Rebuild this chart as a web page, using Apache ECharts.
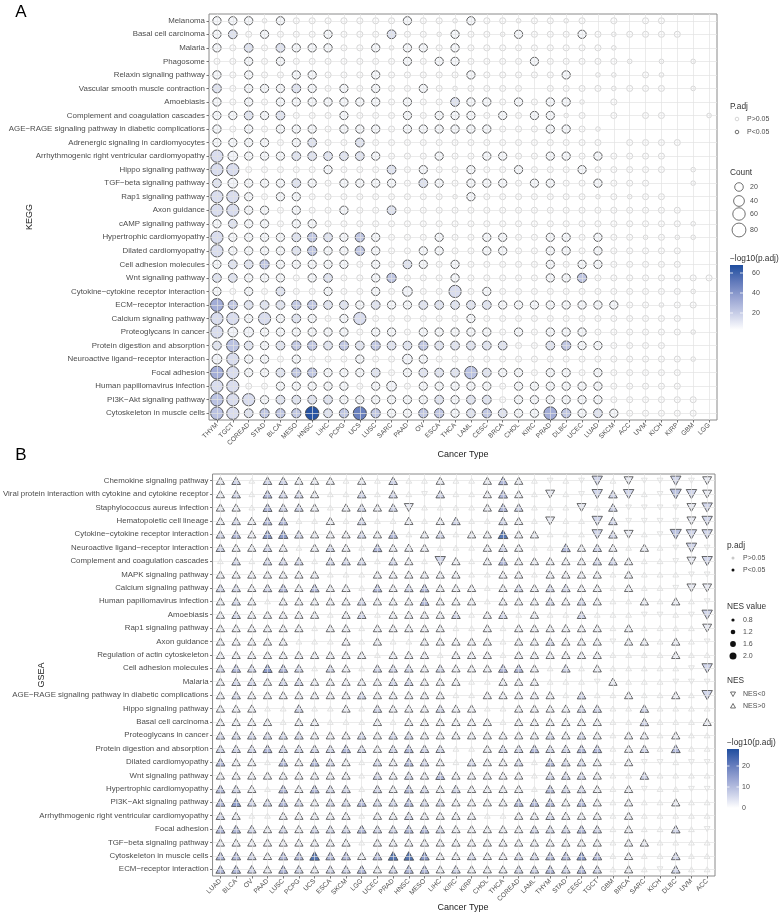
<!DOCTYPE html>
<html><head><meta charset="utf-8">
<script src="https://cdn.jsdelivr.net/npm/echarts@6/dist/echarts.min.js"></script>
<style>html,body{margin:0;padding:0;background:#fff}#c{width:780px;height:914px}</style>
</head><body><div id="c"></div>
<script>
const FONT = '"Liberation Sans", Arial, Helvetica, sans-serif';

// ---------- Panel A (KEGG) ----------
const keggCancers = ['THYM','TGCT','COREAD','STAD','BLCA','MESO','HNSC','LIHC','PCPG','UCS','LUSC','SARC','PAAD','OV','ESCA','THCA','LAML','CESC','BRCA','CHOL','KIRC','PRAD','DLBC','UCEC','LUAD','SKCM','ACC','UVM','KICH','KIRP','GBM','LGG'];
const keggPathways = ['Melanoma','Basal cell carcinoma','Malaria','Phagosome','Relaxin signaling pathway','Vascular smooth muscle contraction','Amoebiasis','Complement and coagulation cascades','AGE\u2212RAGE signaling pathway in diabetic complications','Adrenergic signaling in cardiomyocytes','Arrhythmogenic right ventricular cardiomyopathy','Hippo signaling pathway','TGF\u2212beta signaling pathway','Rap1 signaling pathway','Axon guidance','cAMP signaling pathway','Hypertrophic cardiomyopathy','Dilated cardiomyopathy','Cell adhesion molecules','Wnt signaling pathway','Cytokine\u2212cytokine receptor interaction','ECM\u2212receptor interaction','Calcium signaling pathway','Proteoglycans in cancer','Protein digestion and absorption','Neuroactive ligand\u2212receptor interaction','Focal adhesion','Human papillomavirus infection','PI3K\u2212Akt signaling pathway','Cytoskeleton in muscle cells'];
// one character per cancer type; meaning in keggCodes
const keggCells = [
 'ooo.o,,,,,,,o,,.o,,.,,.,-,-,,---',
 'oe,o,,,o,,,e,,.o,,.o,,,o,.,,,,--',
 'o,e,eooo,,o.oo,o,,,,,,,,,.------',
 ',,o,o,,,,,,,o,oo,,,,o,,,,,.-.-.-',
 'o,o,,oo,,,o,,,,,o,,,,,o-..-,.---',
 'e,oooeo,o,o,,o,.,,,,-,,,,.,,,-.-',
 'o,o,ooooooo,o,,eoo,o,oo.-,------',
 'ooeoe,,,o,,,o,ooo,o,oo.,-,-,,--.',
 'o,o,ooo,ooo,oooooo,,,oo,.-------',
 'oooo,oe,,e,,,,,,,,,,,,,,,-,,,,--',
 'EOoooeeeeeo,,,o,,oo,,oo,o,,,,---',
 'EE,,,,,o,,,e,o,,o,,o,,,o,,,,,-.-',
 'eOoooeo,oooo,eo,ooo,oo,,o,,,--.-',
 'EEo,oo,,,,,,,,,.o,,,,,,,.,.,,---',
 'EEoo,o,,o,,e,,,,,,,,,,,,,,,,,,--',
 'oeoo,oo,,,,,,,,,,,,,,,,,,,,,,,.-',
 'Eooooegeogo,,,o,,oo,,oo,o,,.,..-',
 'Eooooegoogo,,oo,,oo,,oo,o,,,,,--',
 'oeegooooo,o,eo,o,,,,,o,oo,,,,,--',
 'eeooo,oe,,og,,,o,,,,,oog,,,,,,,,',
 'o,o,e,,o,,o,O,,E,o,,,,,,,,,,,,.-',
 'bgeeeggeeoeooeeeeeoooooooo,,.,,-',
 'EEoEoeo,oE,,,,,,o,,,,,,,,,,,,,--',
 'EOOoooooo,oo,ooooo,o,ooo,,,,,,.-',
 'eGeoeggegegeegeeeee,,egoo,,,,---',
 'OEoo,o,,,o,,Oo,,,,,,,,,,,,,,,,.-',
 'bEooeggoooe,oeeeGeoo,oo,o,,,,,--',
 'EE,,ooooo,oO,ooooo,oooooo,,,,,--',
 'GEEoeeeeooooooeoee,oooooo,,,,,,-',
 'GEegggHegUgooggoegeoobgoeo,,,,,-'
];
// code -> [Count, -log10(p.adj), significant]
const keggCodes = {'.':[2,0.3,0], ',':[6,0.6,0], 'o':[18,3,1], 'O':[30,4,1], 'e':[22,10,1], 'E':[58,12,1],
  'g':[26,20,1], 'G':[62,22,1], 'b':[66,30,1], 'U':[70,48,1], 'H':[75,66,1]};
const keggCountTicks = [20,40,60,80];
const keggColorTicks = [60,40,20];

// ---------- Panel B (GSEA) ----------
const gseaCancers = ['LUAD','BLCA','OV','PAAD','LUSC','PCPG','UCS','ESCA','SKCM','LGG','UCEC','PRAD','HNSC','MESO','LIHC','KIRC','KIRP','CHOL','THCA','COREAD','LAML','THYM','STAD','CESC','TGCT','GBM','BRCA','SARC','KICH','DLBC','UVM','ACC'];
const gseaPathways = ['Chemokine signaling pathway','Viral protein interaction with cytokine and cytokine receptor','Staphylococcus aureus infection','Hematopoietic cell lineage','Cytokine\u2212cytokine receptor interaction','Neuroactive ligand\u2212receptor interaction','Complement and coagulation cascades','MAPK signaling pathway','Calcium signaling pathway','Human papillomavirus infection','Amoebiasis','Rap1 signaling pathway','Axon guidance','Regulation of actin cytoskeleton','Cell adhesion molecules','Malaria','AGE\u2212RAGE signaling pathway in diabetic complications','Hippo signaling pathway','Basal cell carcinoma','Proteoglycans in cancer','Protein digestion and absorption','Dilated cardiomyopathy','Wnt signaling pathway','Hypertrophic cardiomyopathy','PI3K\u2212Akt signaling pathway','Arrhythmogenic right ventricular cardiomyopathy','Focal adhesion','TGF\u2212beta signaling pathway','Cytoskeleton in muscle cells','ECM\u2212receptor interaction'];
const gseaCells = [
 'aAuAAaaauauAuuauuaBaududVuvddVdv',
 'aAuBAAauuAuAudAuuaBauvudVAVudWVv',
 'aauBAAauaAaAvuuuuaBAuuuvuAddddvV',
 'aAaBBuuauAuuauaAuuAauvuuVAddddvV',
 'ABaCCAaaaAaBuaAuaaDaauuuVAvudWVV',
 'AaaAauaAauBaaauuuaAauuBaAauaudVd',
 'uAuAAAuAAAuAauVauaBaaaaaAAauudvV',
 'aaaaaaauuuaaaaaauuaauaaaauauuudd',
 'AAaABaBaauBaABaaauaAaAAaauauudvv',
 'aAauaaaaaAaaaBaaauaaaAaAauuauaud',
 'aAaaaaauaAuaaaaAuaAuauuAuuuddudV',
 'aaaaaauaauaaaaauuauaaaaaauauuuuv',
 'aaaaauuuauauuaaaaauaaAaaadaauaud',
 'aaaaaaaaaauaaauaaauaaaaaauuuuauu',
 'ABACBAuAauAAAaAaaaBBauAuauuuuudV',
 'aAAaAAaaaaaAAaaauuaaauuudauuuddd',
 'aAaaaaaaaAaaaaauuaaaaauAuuauuauV',
 'aaauuAuuauAaaaAaauuaaaaAAuuAuuuu',
 'aaaauaauuuauaaaaaauaaaaaauuAuuua',
 'AAAAAAaaaAaAAaaaaaaaaAaAauaauauu',
 'AAABAAAABAaABAAuuaAABAABBuaAuBuu',
 'BaauBaBAauAaBAauAaaAuBAAauaddudd',
 'aaaaaaaaauAaAaBaaaaauAAAauuAuuuu',
 'BAauBaBAAuAaBAaAaaaauBAAauaduudd',
 'BCAABAaAABAABAAaaaaBBBaBauauuauu',
 'AauuaaaaauaaAaaaauuaaAaaauauuuuu',
 'BBAaAaAAABAABBAaaaaaAAABAuauuAud',
 'aaaaaaaaauaaaaaaaaaaaaaaauaauuuu',
 'BBAaBBDBBaBDDCaaAaaAABBCBuauuAuu',
 'BBAaBAaAABaABBaAaaaAABABAuaudAuu'
];
// code -> [NES, -log10(p.adj), significant]
const gseaCodes = {'u':[0.9,0.5,0], 'd':[-0.9,0.5,0], 'a':[1.6,2.5,1], 'A':[1.7,7,1], 'B':[1.8,12,1],
  'C':[1.9,18,1], 'D':[2.0,26,1], 'v':[-1.8,3,1], 'V':[-2.2,7,1], 'W':[-2.4,11,1]};
const gseaNesTicks = [0.8,1.2,1.6,2.0];
const gseaColorTicks = [20,10,0];

const RAMP = ['#FFFFFF','#C9CFE8','#97A3D2','#5F78BA','#1F4E9F'];

function buildKegg(sig){
  const out=[];
  keggPathways.forEach((p,i)=>{
    const row=keggCells[i];
    for(let j=0;j<keggCancers.length;j++){
      const lv=keggCodes[row[j]]; if(!lv||lv[2]!==sig) continue;
      out.push([j,i,lv[0],lv[1]]);
    }
  });
  return out;
}
function buildGsea(sig,up){
  const out=[];
  gseaPathways.forEach((p,i)=>{
    const row=gseaCells[i];
    for(let j=0;j<gseaCancers.length;j++){
      const lv=gseaCodes[row[j]]; if(!lv||lv[2]!==sig) continue;
      if((lv[0]>0)!==up) continue;
      out.push([j,i,lv[0],lv[1]]);
    }
  });
  return out;
}
const circleSize = v => 3.5 + 11*Math.sqrt((v[2]-1)/89);
const triSize = v => { const w = 2.5 + 3.6*Math.abs(v[2]); return [w, w*0.88]; };

function gridLines(nx, ny){
  const d=[];
  for(let i=0;i<nx;i++) d.push({xAxis:i});
  for(let i=0;i<ny;i++) d.push({yAxis:i});
  return {silent:true, symbol:['none','none'], label:{show:false}, animation:false,
    lineStyle:{color:'#E3E3E3', width:0.7, type:'solid'}, emphasis:{disabled:true}, data:d};
}

const yLab = {fontSize:7.9, color:'#4D4D4D', fontFamily:FONT, margin:4, interval:0};
const xLab = {fontSize:6.7, color:'#4D4D4D', fontFamily:FONT, margin:4, interval:0, rotate:45};
const tick = {show:true, alignWithLabel:true, length:2.5, interval:0, lineStyle:{color:'#555', width:0.8}};

function mkX(gi, data){ return {type:'category', gridIndex:gi, data:data, boundaryGap:true,
  axisLine:{show:false}, axisTick:tick, axisLabel:xLab, splitLine:{show:false}}; }
function mkY(gi, data){ return {type:'category', gridIndex:gi, data:data, inverse:true, boundaryGap:true,
  axisLine:{show:false}, axisTick:tick, axisLabel:yLab, splitLine:{show:false}}; }

const txt = (x,y,t,size,opt={}) => Object.assign({type:'text', x:x, y:y, silent:true,
  style:{text:t, x:0, y:0, fontSize:size, fontFamily:FONT, fill:opt.fill||'#333',
    align:opt.align||'left', verticalAlign:'middle', fontWeight:opt.weight||'normal'}}, opt.rot?{rotation:opt.rot}:{});

const graphics = [];
// panel letters & axis titles
graphics.push(txt(21,12,'A',17,{align:'center',fill:'#000'}));
graphics.push(txt(21,455,'B',17,{align:'center',fill:'#000'}));
graphics.push(txt(463,455,'Cancer Type',9,{align:'center',fill:'#222'}));
graphics.push(txt(463,908,'Cancer Type',9,{align:'center',fill:'#222'}));
graphics.push(txt(30,217,'KEGG',9,{align:'center',fill:'#222',rot:Math.PI/2}));
graphics.push(txt(42,675,'GSEA',9,{align:'center',fill:'#222',rot:Math.PI/2}));

// Legend A
graphics.push(txt(730,107,'P.adj',8.3));
graphics.push({type:'circle', shape:{cx:737,cy:119,r:1.8}, style:{fill:'#fff',stroke:'#C4C4C4',lineWidth:0.7}});
graphics.push(txt(747,119,'P>0.05',7,{fill:'#4D4D4D'}));
graphics.push({type:'circle', shape:{cx:737,cy:132,r:1.8}, style:{fill:'#fff',stroke:'#333',lineWidth:0.7}});
graphics.push(txt(747,132,'P<0.05',7,{fill:'#4D4D4D'}));
graphics.push(txt(730,173,'Count',8.3));
const countY=[187,201,214,230];
keggCountTicks.forEach((c,i)=>{
  const r = circleSize([0,0,c])/2;
  graphics.push({type:'circle', shape:{cx:739,cy:countY[i],r:r}, style:{fill:'#fff',stroke:'#333',lineWidth:0.7}});
  graphics.push(txt(750,countY[i],String(c),7,{fill:'#4D4D4D'}));
});
graphics.push(txt(730,259,'\u2212log10(p.adj)',8.3));
const gradA = {type:'linear', x:0,y:1,x2:0,y2:0, colorStops:RAMP.map((c,i)=>({offset:i/(RAMP.length-1), color:c}))};
graphics.push({type:'rect', shape:{x:730,y:265,width:13,height:65}, style:{fill:gradA}});
keggColorTicks.forEach(v=>{
  const y = 265 + (68-v)*1.0;
  graphics.push({type:'line', shape:{x1:730,y1:y,x2:733,y2:y}, style:{stroke:'#fff',lineWidth:0.8}});
  graphics.push({type:'line', shape:{x1:740,y1:y,x2:743,y2:y}, style:{stroke:'#fff',lineWidth:0.8}});
  graphics.push(txt(752,y,String(v),7,{fill:'#4D4D4D'}));
});

// Legend B
graphics.push(txt(727,546,'p.adj',8.3));
graphics.push({type:'circle', shape:{cx:733,cy:558,r:1.5}, style:{fill:'#C8C8C8'}});
graphics.push(txt(743,558,'P>0.05',7,{fill:'#4D4D4D'}));
graphics.push({type:'circle', shape:{cx:733,cy:570,r:1.5}, style:{fill:'#111'}});
graphics.push(txt(743,570,'P<0.05',7,{fill:'#4D4D4D'}));
graphics.push(txt(727,607,'NES value',8.3));
const nesY=[620,632,644,656], nesR=[1.6,2.3,2.9,3.5];
gseaNesTicks.forEach((v,i)=>{
  graphics.push({type:'circle', shape:{cx:733,cy:nesY[i],r:nesR[i]}, style:{fill:'#111'}});
  graphics.push(txt(743,nesY[i],v.toFixed(1),7,{fill:'#4D4D4D'}));
});
graphics.push(txt(727,681,'NES',8.3));
graphics.push({type:'polygon', shape:{points:[[730.5,692],[735.5,692],[733,696.5]]}, style:{fill:'#fff',stroke:'#333',lineWidth:0.7}});
graphics.push(txt(743,694,'NES<0',7,{fill:'#4D4D4D'}));
graphics.push({type:'polygon', shape:{points:[[730.5,708],[735.5,708],[733,703.5]]}, style:{fill:'#fff',stroke:'#333',lineWidth:0.7}});
graphics.push(txt(743,706,'NES>0',7,{fill:'#4D4D4D'}));
graphics.push(txt(727,743,'\u2212log10(p.adj)',8.3));
graphics.push({type:'rect', shape:{x:727,y:749,width:12,height:59}, style:{fill:gradA}});
gseaColorTicks.forEach(v=>{
  const y = 808 - v*2.1;
  graphics.push({type:'line', shape:{x1:727,y1:y,x2:729.5,y2:y}, style:{stroke:'#fff',lineWidth:0.8}});
  graphics.push({type:'line', shape:{x1:736.5,y1:y,x2:739,y2:y}, style:{stroke:'#fff',lineWidth:0.8}});
  graphics.push(txt(742,y,String(v),7,{fill:'#4D4D4D'}));
});

const sigStyleA = {borderColor:'#3A3A3A', borderWidth:0.8, opacity:1};
const nsStyleA = {borderColor:'#C6C6C6', borderWidth:0.7, opacity:1};

const option = {
  animation:false,
  backgroundColor:'#fff',
  textStyle:{fontFamily:FONT},
  grid:[
    {left:209, top:14, width:508, height:406, show:true, borderColor:'#8A8A8A', borderWidth:1, backgroundColor:'#fff'},
    {left:212, top:474, width:503, height:402, show:true, borderColor:'#8A8A8A', borderWidth:1, backgroundColor:'#fff'}
  ],
  xAxis:[mkX(0,keggCancers), mkX(1,gseaCancers)],
  yAxis:[mkY(0,keggPathways), mkY(1,gseaPathways)],
  visualMap:[
    {type:'continuous', show:false, seriesIndex:[1,2], dimension:3, min:0, max:68, inRange:{color:RAMP}},
    {type:'continuous', show:false, seriesIndex:[4,5,6,7], dimension:3, min:0, max:27.5, inRange:{color:RAMP}}
  ],
  series:[
    {type:'scatter', xAxisIndex:0, yAxisIndex:0, data:[], z:1, silent:true, markLine:gridLines(keggCancers.length,keggPathways.length)},
    {type:'scatter', xAxisIndex:0, yAxisIndex:0, z:2, silent:true, data:buildKegg(0), symbol:'circle', symbolSize:circleSize, itemStyle:nsStyleA},
    {type:'scatter', xAxisIndex:0, yAxisIndex:0, z:3, silent:true, data:buildKegg(1), symbol:'circle', symbolSize:circleSize, itemStyle:sigStyleA},
    {type:'scatter', xAxisIndex:1, yAxisIndex:1, data:[], z:1, silent:true, markLine:gridLines(gseaCancers.length,gseaPathways.length)},
    {type:'scatter', xAxisIndex:1, yAxisIndex:1, z:2, silent:true, data:buildGsea(0,true), symbol:'triangle', symbolSize:triSize, itemStyle:{borderColor:'#CDCDCD',borderWidth:0.7}},
    {type:'scatter', xAxisIndex:1, yAxisIndex:1, z:2, silent:true, data:buildGsea(0,false), symbol:'triangle', symbolRotate:180, symbolSize:triSize, itemStyle:{borderColor:'#CDCDCD',borderWidth:0.7}},
    {type:'scatter', xAxisIndex:1, yAxisIndex:1, z:3, silent:true, data:buildGsea(1,true), symbol:'triangle', symbolSize:triSize, itemStyle:{borderColor:'#333',borderWidth:0.9}},
    {type:'scatter', xAxisIndex:1, yAxisIndex:1, z:3, silent:true, data:buildGsea(1,false), symbol:'triangle', symbolRotate:180, symbolSize:triSize, itemStyle:{borderColor:'#333',borderWidth:0.9}}
  ],
  graphic: graphics
};
const chart = echarts.init(document.getElementById('c'));
chart.setOption(option);
</script></body></html>
